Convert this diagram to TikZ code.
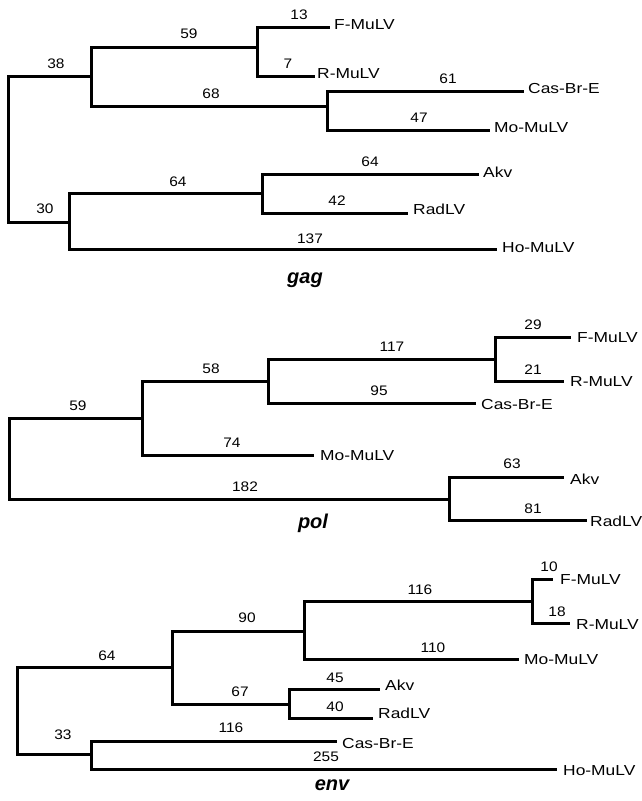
\documentclass[tikz,border=0pt]{standalone}
\usepackage{fontspec}
\setmainfont{Liberation Sans}
\newfontfamily\leaffont[FakeStretch=1.2]{Liberation Sans}
\newfontfamily\numfont[FakeStretch=1.12]{Liberation Sans}
\begin{document}
\begin{tikzpicture}[x=1pt,y=-1pt,
  br/.style={line width=3pt, line cap=rect, line join=miter},
  thinbr/.style={line width=3pt, line cap=rect, line join=miter},
  num/.style={font=\numfont\fontsize{13.8}{13.8}\selectfont, inner sep=0pt},
  leaf/.style={font=\leaffont\fontsize{14.5}{14.5}\selectfont, inner sep=0pt, anchor=west},
  ttl/.style={font=\fontsize{20}{20}\selectfont\bfseries\itshape, inner sep=0pt, anchor=base}]
\useasboundingbox (0,0) rectangle (642,801);

% ---------------- gag ----------------
\coordinate (g0) at (8,149);
\coordinate (gA) at (91,76);
\coordinate (gB) at (257,47);
\coordinate (gF) at (328,27);
\coordinate (gR) at (313,76);
\coordinate (gC) at (327,106);
\coordinate (gCas) at (522,91);
\coordinate (gMo) at (488,130);
\coordinate (gD) at (69,222);
\coordinate (gE) at (262,193);
\coordinate (gAkv) at (477,174);
\coordinate (gRad) at (406,213);
\coordinate (gHo) at (495,249);

\draw[thinbr] (g0) |- (gA);
\draw[thinbr] (g0) |- (gD);
\draw[br] (gA) |- (gB);
\draw[br] (gA) |- (gC);
\draw[br] (gB) |- (gF);
\draw[br] (gB) |- (gR);
\draw[br] (gC) |- (gCas);
\draw[br] (gC) |- (gMo);
\draw[br] (gD) |- (gE);
\draw[br] (gD) |- (gHo);
\draw[br] (gE) |- (gAkv);
\draw[br] (gE) |- (gRad);

\node[leaf] (tgF) at (334,25) {F-MuLV};
\node[leaf] (tgR) at (317,73.5) {R-MuLV};
\node[leaf] (tgCas) at (528,88.5) {Cas-Br-E};
\node[leaf] (tgMo) at (494,127.5) {Mo-MuLV};
\node[leaf] (tgAkv) at (483,172) {Akv};
\node[leaf] (tgRad) at (413,209.5) {RadLV};
\node[leaf] (tgHo) at (502,248) {Ho-MuLV};

\node[num] (ng13) at (299,15) {13};
\node[num] (ng59) at (189,34) {59};
\node[num] (ng38) at (56,64) {38};
\node[num] (ng7) at (288,64) {7};
\node[num] (ng68) at (211,94) {68};
\node[num] (ng61) at (448,79) {61};
\node[num] (ng47) at (419,118) {47};
\node[num] (ng64a) at (178,182) {64};
\node[num] (ng30) at (45,209) {30};
\node[num] (ng64b) at (370,162) {64};
\node[num] (ng42) at (337,201) {42};
\node[num] (ng137) at (310,239) {137};

\node[ttl] (tgag) at (305,283) {gag};

% ---------------- pol ----------------
\coordinate (p0) at (9,458.5);
\coordinate (pF) at (142,418);
\coordinate (pG) at (268,381);
\coordinate (pH) at (495,359);
\coordinate (pFm) at (569,337);
\coordinate (pRm) at (562,381);
\coordinate (pCas) at (474,403);
\coordinate (pMo) at (312,455);
\coordinate (pI) at (449,499);
\coordinate (pAkv) at (562,477);
\coordinate (pRad) at (585,520);

\draw[br] (p0) |- (pF);
\draw[br] (p0) |- (pI);
\draw[br] (pF) |- (pG);
\draw[thinbr] (pF) |- (pMo);
\draw[br] (pG) |- (pH);
\draw[br] (pG) |- (pCas);
\draw[br] (pH) |- (pFm);
\draw[br] (pH) |- (pRm);
\draw[br] (pI) |- (pAkv);
\draw[br] (pI) |- (pRad);

\node[leaf] (tpF) at (577,338) {F-MuLV};
\node[leaf] (tpR) at (570,382) {R-MuLV};
\node[leaf] (tpCas) at (481,405) {Cas-Br-E};
\node[leaf] (tpMo) at (320,456) {Mo-MuLV};
\node[leaf] (tpAkv) at (570,479) {Akv};
\node[leaf] (tpRad) at (590,521) {RadLV};

\node[num] (np59) at (78,406) {59};
\node[num] (np58) at (211,369) {58};
\node[num] (np117) at (392,347) {117};
\node[num] (np29) at (533,325) {29};
\node[num] (np21) at (533,370) {21};
\node[num] (np95) at (379,391) {95};
\node[num] (np74) at (232,443) {74};
\node[num] (np182) at (245,487) {182};
\node[num] (np63) at (512,464) {63};
\node[num] (np81) at (533,509) {81};

\node[ttl] (tpol) at (313,528) {pol};

% ---------------- env ----------------
\coordinate (e0) at (17,710.5);
\coordinate (eJ) at (172,667);
\coordinate (eK) at (304,631);
\coordinate (eL) at (532,601);
\coordinate (eFm) at (551,579);
\coordinate (eRm) at (568,623);
\coordinate (eMo) at (517,659);
\coordinate (eM) at (289,704);
\coordinate (eAkv) at (378,689);
\coordinate (eRad) at (371,718);
\coordinate (eN) at (91,754);
\coordinate (eCas) at (335,741);
\coordinate (eHo) at (555,769);

\draw[br] (e0) |- (eJ);
\draw[br] (e0) |- (eN);
\draw[br] (eJ) |- (eK);
\draw[br] (eJ) |- (eM);
\draw[br] (eK) |- (eL);
\draw[br] (eK) |- (eMo);
\draw[br] (eL) |- (eFm);
\draw[br] (eL) |- (eRm);
\draw[br] (eM) |- (eAkv);
\draw[br] (eM) |- (eRad);
\draw[br] (eN) |- (eCas);
\draw[br] (eN) |- (eHo);

\node[leaf] (teF) at (560,580) {F-MuLV};
\node[leaf] (teR) at (576,625) {R-MuLV};
\node[leaf] (teMo) at (524,660) {Mo-MuLV};
\node[leaf] (teAkv) at (385,685) {Akv};
\node[leaf] (teRad) at (378,713) {RadLV};
\node[leaf] (teCas) at (342,743) {Cas-Br-E};
\node[leaf] (teHo) at (563,771) {Ho-MuLV};

\node[num] (ne64) at (107,656) {64};
\node[num] (ne90) at (247,618) {90};
\node[num] (ne116a) at (420,590) {116};
\node[num] (ne10) at (549,567) {10};
\node[num] (ne18) at (557,612) {18};
\node[num] (ne110) at (433,648) {110};
\node[num] (ne67) at (240,692) {67};
\node[num] (ne45) at (335,678) {45};
\node[num] (ne40) at (335,707) {40};
\node[num] (ne33) at (63,735) {33};
\node[num] (ne116b) at (231,728) {116};
\node[num] (ne255) at (326,757) {255};

\node[ttl] (tenv) at (332,790) {env};
\end{tikzpicture}
\end{document}
